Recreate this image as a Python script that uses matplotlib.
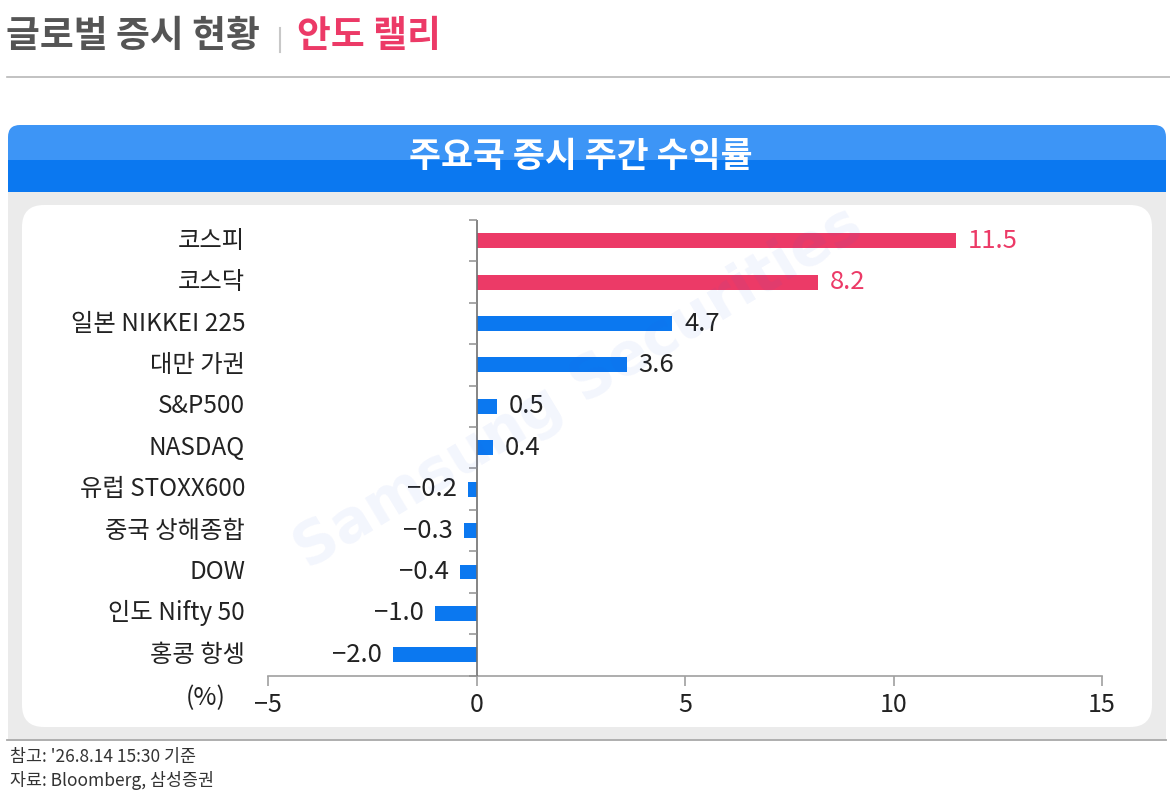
import numpy as np
import matplotlib
matplotlib.use('Agg')
import matplotlib.pyplot as plt
from matplotlib.patches import FancyBboxPatch, Rectangle

plt.rcParams['font.family'] = ['Noto Sans CJK KR', 'DejaVu Sans']

# data
categories = ['코스피', '코스닥', '일본 NIKKEI 225', '대만 가권', 'S&P500', 'NASDAQ',
              '유럽 STOXX600', '중국 상해종합', 'DOW', '인도 Nifty 50', '홍콩 항셍']
returns = [11.5, 8.2, 4.7, 3.6, 0.5, 0.4, -0.2, -0.3, -0.4, -1.0, -2.0]
highlight = ['코스피', '코스닥']
x_ticks = [-5, 0, 5, 10, 15]

title_main = '글로벌 증시 현황'
title_sub = '안도 랠리'
panel_title = '주요국 증시 주간 수익률'
note_lines = ["참고: '26.8.14 15:30 기준", '자료: Bloomberg, 삼성증권']

PINK = '#EC3A67'
BLUE = '#0B78F0'
TEXT = '#222222'
W, H = 1170, 792

fig = plt.figure(figsize=(W / 100, H / 100), dpi=100)

# background layer in pixel coords
bg = fig.add_axes([0, 0, 1, 1])
bg.set_xlim(0, W)
bg.set_ylim(H, 0)
bg.axis('off')

bg.plot([7, W], [77, 77], color='#B8B8B8', lw=1.2)
bg.add_patch(FancyBboxPatch((8, 125), 1158, 67, boxstyle='round,pad=0,rounding_size=12',
                            fc='#3D95F6', ec='none'))
bg.add_patch(Rectangle((8, 160), 1158, 32, fc=BLUE, ec='none'))
bg.add_patch(Rectangle((8, 192), 1158, 547, fc='#EBEBEB', ec='none'))
bg.add_patch(FancyBboxPatch((22, 205), 1130, 522, boxstyle='round,pad=0,rounding_size=22',
                            fc='white', ec='none'))
bg.plot([7, 1166], [739.5, 739.5], color='#A8A8A8', lw=1.3)

# title line
t1 = bg.text(6, 37, title_main, fontsize=26.5, fontweight='bold', color='#555555',
             ha='left', va='center')
r = fig.canvas.get_renderer()
bb = t1.get_window_extent(r)
sep_x = bb.x1 + 20
bg.plot([sep_x, sep_x], [28, 52], color='#C8C8C8', lw=1.5)
bg.text(sep_x + 17, 37, title_sub, fontsize=26.5, fontweight='bold', color=PINK,
        ha='left', va='center')

bg.text(581, 156, panel_title, fontsize=25, fontweight='bold', color='white',
        ha='center', va='center')

bg.text(10, 757, note_lines[0], fontsize=12.5, color='#333333', va='center')
bg.text(10, 780, note_lines[1], fontsize=12.5, color='#333333', va='center')
bg.text(206, 698, '(%)', fontsize=18, color=TEXT, ha='center', va='center')

# chart
ax = fig.add_axes([268 / W, 1 - 675.5 / H, 834 / W, 455.5 / H])
ax.patch.set_alpha(0)
ypos = np.arange(len(categories))
colors = [PINK if c in highlight else BLUE for c in categories]
ax.barh(ypos, returns, height=0.36, color=colors, zorder=3)
ax.set_xlim(-5, 15)
ax.set_ylim(len(categories) - 0.5, -0.5)

for s in ['top', 'right', 'left']:
    ax.spines[s].set_visible(False)
ax.spines['bottom'].set_color('#A0A0A0')
ax.spines['bottom'].set_linewidth(1.2)

ax.set_xticks(x_ticks)
ax.tick_params(axis='x', direction='out', length=7, width=1.2, color='#A0A0A0',
               labelsize=18, labelcolor=TEXT, pad=5)
ax.set_yticks([])

# category labels, right-aligned left of the plot area
for i, c in enumerate(categories):
    ax.annotate(c, (0, i), xycoords=('axes fraction', 'data'), xytext=(-16.5, 0),
                textcoords='offset points', ha='right', va='center',
                fontsize=17.5, color=TEXT)

ax.axvline(0, color='#707070', lw=1.2, zorder=4)
ax.hlines(np.arange(len(categories) + 1) - 0.5, -0.18, 0, color='#909090', lw=1.1,
          zorder=4, clip_on=False)

for i, (c, v) in enumerate(zip(categories, returns)):
    col = PINK if c in highlight else TEXT
    if v >= 0:
        ax.annotate(f'{v:.1f}', (v, i), xytext=(8.5, 0), textcoords='offset points',
                    ha='left', va='center', fontsize=18.5, color=col)
    else:
        ax.annotate('\u2212' + f'{abs(v):.1f}', (v, i), xytext=(-8, 0),
                    textcoords='offset points', ha='right', va='center',
                    fontsize=18.5, color=col)

# watermark
fig.text(578 / W, 1 - 388 / H, 'Samsung Securities', rotation=31, ha='center',
         va='center', rotation_mode='anchor', fontsize=42, fontweight='bold',
         color='#2F5FE0', alpha=0.06, family='DejaVu Sans')

fig.savefig('out.png', dpi=100)
